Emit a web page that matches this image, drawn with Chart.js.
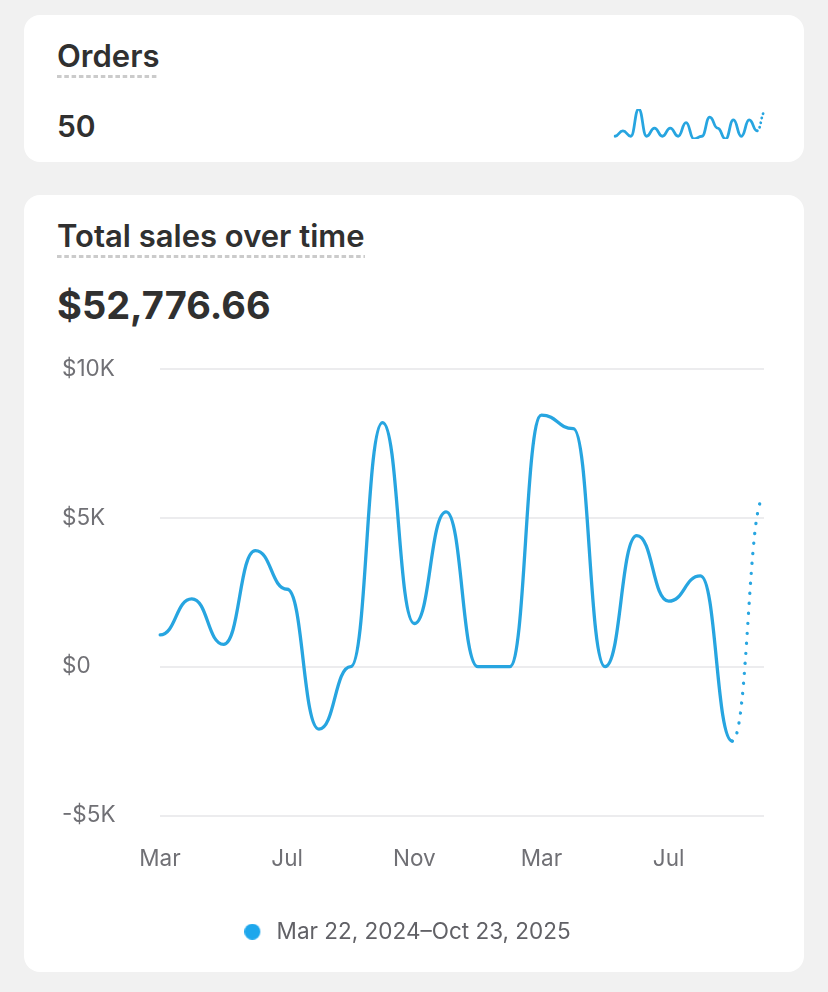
<!DOCTYPE html>
<html>
<head>
<meta charset="utf-8">
<script src="https://cdn.jsdelivr.net/npm/chart.js@4.4.1/dist/chart.umd.min.js"></script>
<style>
  html, body { margin: 0; padding: 0; }
  body {
    width: 828px; height: 992px; position: relative; overflow: hidden;
    background: #f1f1f1; font-family: Inter, "Noto Sans", sans-serif; color: #303030;
  }
  .card { position: absolute; left: 24px; width: 780px; background: #fff; border-radius: 16px; }
  .title {
    position: absolute; left: 57px; font-size: 31px; line-height: 30px; font-weight: 600;
    padding-bottom: 7px; white-space: nowrap;
    background-image: linear-gradient(to right, #cbcbcb 62%, transparent 62%);
    background-size: 7.3px 3px; background-repeat: repeat-x; background-position: left bottom;
  }
  .value { position: absolute; left: 57px; white-space: nowrap; }
  .box { position: absolute; }
</style>
</head>
<body>
<div class="card" style="top:15px;height:147px"></div>
<div class="card" style="top:195px;height:777px"></div>

<div class="title" style="top:41px">Orders</div>
<div class="value" style="top:111px;font-size:30px;line-height:30px;font-weight:600">50</div>
<div class="box" style="left:612px;top:106px;width:156px;height:36px"><canvas id="sparkOrders"></canvas></div>

<div class="title" style="top:221px">Total sales over time</div>
<div class="value" style="top:286px;font-size:38px;line-height:38px;font-weight:700">$52,776.66</div>
<div class="box" style="left:40px;top:340px;width:746px;height:622px"><canvas id="chartSales"></canvas></div>

<script>
// monthly buckets, Mar 2024 .. Oct 2025 (last one is the partial month)
const months = ['Mar 2024', 'Apr 2024', 'May 2024', 'Jun 2024', 'Jul 2024', 'Aug 2024',
  'Sep 2024', 'Oct 2024', 'Nov 2024', 'Dec 2024', 'Jan 2025', 'Feb 2025', 'Mar 2025',
  'Apr 2025', 'May 2025', 'Jun 2025', 'Jul 2025', 'Aug 2025', 'Sep 2025', 'Oct 2025'];
const sales = [1070, 2280, 750, 3900, 2600, -2100, 0, 8200, 1450, 5200,
  0, 0, 8450, 8000, 0, 4400, 2200, 3050, -2500, 5700];
const orders = [1, 3, 1, 11, 1, 4, 1, 4, 1, 6, 0, 1, 8, 4, 0, 7, 1, 7, 3, 10];
const yTicks = [-5000, 0, 5000, 10000];
const rangeLabel = 'Mar 22, 2024\u2013Oct 23, 2025';

const BLUE = '#27a5e0';
const TICK = '#707075';
const lastIdx = months.length - 1;

// the last (unfinished) month is drawn dotted
function dottedLast(gap) {
    return {
        borderDash: function(ctx) {
            return ctx.p1DataIndex === lastIdx ? [0.1, gap] : undefined;
        }
    };
}

function money(v) {
    if (v === 0) return '$0';
    const k = Math.abs(v) / 1000;
    return (v < 0 ? '-$' : '$') + k + 'K';
}

// flat tangent at every point, handles halfway to the neighbours (bump-x style curve)
const flatTangents = {
    id: 'flatTangents',
    beforeDatasetDraw: function(chart, args) {
        const meta = args.meta;
        const line = meta.dataset;
        if (!line) return;
        line.updateControlPoints(chart.chartArea, meta.iScale.axis);
        const pts = meta.data;
        for (let i = 0; i < pts.length; i++) {
            const p = pts[i], prev = pts[i - 1], next = pts[i + 1];
            p.cp1x = prev ? (prev.x + p.x) / 2 : p.x;
            p.cp1y = p.y;
            p.cp2x = next ? (p.x + next.x) / 2 : p.x;
            p.cp2y = p.y;
        }
        delete line._path;
    }
};

// legend marker: dot sits on the left of a wider transparent image
const legendDot = document.createElement('canvas');
legendDot.width = 32;
legendDot.height = 16;
(function() {
    const c = legendDot.getContext('2d');
    c.fillStyle = '#1ea7ec';
    c.beginPath();
    c.arc(8, 8, 8, 0, Math.PI * 2);
    c.fill();
})();

new Chart(document.getElementById('sparkOrders'), {
    type: 'line',
    data: {
        labels: months,
        datasets: [{
            label: 'Orders',
            data: orders,
            borderColor: BLUE,
            borderWidth: 2.8,
            borderCapStyle: 'round',
            borderJoinStyle: 'round',
            pointRadius: 0,
            cubicInterpolationMode: 'monotone',
            segment: dottedLast(4.5)
        }]
    },
    plugins: [flatTangents],
    options: {
        responsive: true,
        maintainAspectRatio: false,
        animation: false,
        layout: { padding: 3 },
        plugins: { legend: { display: false }, tooltip: { enabled: false } },
        scales: {
            x: { display: false },
            y: { display: false, min: 0, max: 11 }
        }
    }
});

new Chart(document.getElementById('chartSales'), {
    type: 'line',
    data: {
        labels: months,
        datasets: [{
            label: rangeLabel,
            data: sales,
            borderColor: BLUE,
            backgroundColor: '#1ea7ec',
            borderWidth: 3.3,
            borderCapStyle: 'round',
            borderJoinStyle: 'round',
            pointRadius: 0,
            cubicInterpolationMode: 'monotone',
            segment: dottedLast(9.9)
        }]
    },
    plugins: [flatTangents],
    options: {
        responsive: true,
        maintainAspectRatio: false,
        animation: false,
        layout: { padding: { top: 29, left: 22, right: 22, bottom: 9 } },
        plugins: {
            legend: {
                position: 'bottom',
                labels: {
                    usePointStyle: true,
                    pointStyle: legendDot,
                    boxWidth: 10,
                    boxHeight: 10,
                    padding: 10,
                    color: '#616166',
                    font: { size: 22.5, family: 'Inter' }
                }
            },
            tooltip: { enabled: false }
        },
        scales: {
            x: {
                grid: { display: false },
                border: { display: false },
                afterFit: function(scale) { scale.height = 95; },
                ticks: {
                    autoSkip: false,
                    maxRotation: 0,
                    padding: 22,
                    color: TICK,
                    font: { size: 22.5, family: 'Inter' },
                    callback: function(value, i) {
                        return i % 4 === 0 ? months[i].slice(0, 3) : '';
                    }
                }
            },
            y: {
                min: yTicks[0],
                max: yTicks[yTicks.length - 1],
                afterFit: function(scale) { scale.width = 98; },
                afterBuildTicks: function(scale) {
                    scale.ticks = yTicks.map(function(v) { return { value: v }; });
                },
                grid: { color: '#ececee', lineWidth: 2, drawTicks: false },
                border: { display: false },
                ticks: {
                    crossAlign: 'far',
                    padding: 0,
                    color: TICK,
                    font: { size: 22.5, family: 'Inter' },
                    callback: function(value) { return money(value); }
                }
            }
        }
    }
});
</script>
</body>
</html>
